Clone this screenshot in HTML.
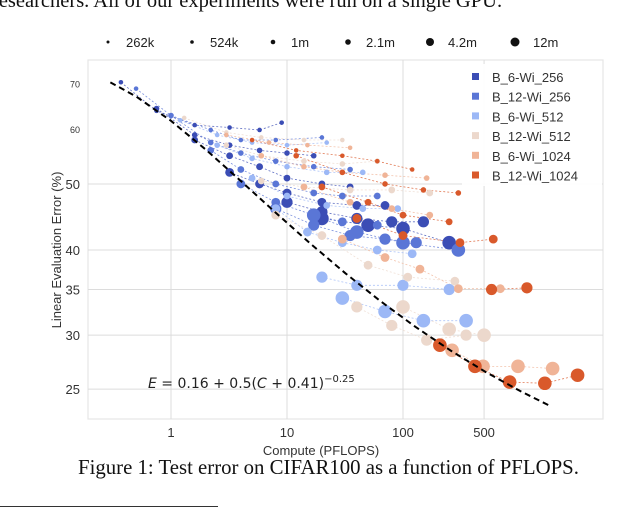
<!DOCTYPE html>
<html><head><meta charset="utf-8"><style>
body{margin:0;background:#fff;width:640px;height:509px;overflow:hidden;position:relative;font-family:"Liberation Sans",sans-serif}
.t{position:absolute;white-space:nowrap}
</style></head><body>
<div class="t" style="left:-8px;top:-10px;font:20.5px 'Liberation Serif',serif;color:#111">researchers. All of our experiments were run on a single GPU.</div>
<svg id="c" width="640" height="509" style="position:absolute;left:0;top:0"></svg>
<div class="t" style="left:78px;top:456px;font:20.8px 'Liberation Serif',serif;color:#111">Figure 1: Test error on CIFAR100 as a function of PFLOPS.</div>
<div style="position:absolute;left:0;top:506px;width:218px;height:1px;background:#333"></div>
<script>
const seriesNames=["B_6-Wi_256","B_12-Wi_256","B_6-Wi_512","B_12-Wi_512","B_6-Wi_1024","B_12-Wi_1024"];
const seriesColors=["#3b4db5","#5a76d6","#9cb8f6","#ecd8cc","#f0b497","#d9592b"];
const sizeLabels=["262k","524k","1m","2.1m","4.2m","12m"];
const xTicks=[1,10,100,500];
const yTicks=[25,30,35,40,50];
const yMinorTicks=[60,70];
// runs: [series, sizeIdx, [[compute PFLOPS, error %], ...]]
const runs=[
[0,0,[[0.37,70.5],[0.75,64],[1.6,61],[3.2,60.5],[5.8,60],[9,61.5]]],
[0,1,[[0.75,64.5],[1.6,59],[3.2,57],[5.8,56],[10,55.5],[17,55]]],
[0,2,[[1.6,58],[3.2,55],[5.8,53],[10,51],[20,50],[35,49.5]]],
[0,3,[[3.2,52],[5.8,50],[10,48.5],[20,47],[40,46.5],[70,46.5]]],
[0,4,[[10,47],[20,45.5],[40,44.5],[80,44],[150,44]]],
[0,5,[[20,44.5],[50,43.5],[100,43],[250,41]]],
[1,0,[[0.5,69],[1,63],[2.2,60],[4,58],[8,58],[20,58.5]]],
[1,1,[[1,63],[2.2,57.5],[4,55.5],[8,54],[17,53],[35,52.5]]],
[1,2,[[2.2,56],[4,52.5],[8,50],[17,48.5],[30,48],[60,48]]],
[1,3,[[4,50],[8,47],[17,45],[30,44],[60,43.5]]],
[1,4,[[8,46],[17,43.5],[35,42],[70,41.5],[130,41]]],
[1,5,[[17,45],[40,42.5],[100,41],[300,40]]],
[2,0,[[1.2,62],[2.5,59],[5,57.5],[10,57],[22,57.5]]],
[2,1,[[2.5,57],[5,54.5],[10,53],[22,52],[45,52]]],
[2,2,[[5,51],[10,48],[22,46.5],[45,46],[90,46]]],
[2,3,[[8,46],[15,42.5],[30,41],[60,40],[120,39.5]]],
[2,4,[[20,36.5],[40,35.5],[100,35.5],[250,35]]],
[2,5,[[30,34],[70,32.5],[150,31.5],[350,31.5]]],
[3,0,[[1.3,62.5],[3,59.5],[6,58.5],[14,58],[30,58]]],
[3,1,[[3,57],[6,55],[14,54],[30,53.5],[60,54]]],
[3,2,[[6,50.5],[14,49.5],[35,49],[80,49],[170,48.5]]],
[3,3,[[8,45],[20,42],[50,38],[110,36.5],[280,36]]],
[3,4,[[40,33],[80,31],[160,29.5],[350,30]]],
[3,5,[[100,33],[250,30.6],[500,30]]],
[4,0,[[3,59],[7,57.5],[15,57],[35,56.5]]],
[4,1,[[6,55],[14,53],[30,52],[70,51.5],[160,51]]],
[4,2,[[14,49.5],[35,47],[80,46],[170,45]]],
[4,3,[[30,41.5],[70,39],[140,37.5],[300,35.1],[690,35.1]]],
[4,5,[[265,28.5],[490,27],[980,27],[1950,26.8]]],
[5,0,[[5,58],[12,56],[30,55],[60,54],[120,52.5]]],
[5,1,[[12,55],[30,52],[70,50],[150,49],[300,48.5]]],
[5,2,[[20,49.5],[50,47],[100,45],[250,44]]],
[5,3,[[40,44.5],[100,42],[310,41],[600,41.5]]],
[5,4,[[580,35],[1170,35.2]]],
[5,5,[[208,29],[417,27],[830,25.6],[1670,25.5],[3200,26.2]]]
];
const sizeR=[2.3,2.8,3.4,4.4,5.6,6.8];
const NS="http://www.w3.org/2000/svg";
const svg=document.getElementById('c');
const X=c=>171+116*Math.log10(c);
const Y=e=>250+296*Math.log(40/e);
function mk(tag,at,parent){const el=document.createElementNS(NS,tag);for(const k in at)el.setAttribute(k,at[k]);(parent||svg).appendChild(el);return el;}
let fr=mk('rect',{x:88,y:60,width:515,height:359,fill:'none',stroke:'#e6e6e6','stroke-width':1.2});


xTicks.forEach(v=>{
 let g=mk('line',{x1:X(v),x2:X(v),y1:60,y2:419,stroke:'#dcdcdc','stroke-width':1});
 
 
 let t=mk('text',{x:X(v),y:437,'text-anchor':'middle','font-size':13,fill:'#333','font-family':'Liberation Sans'});
 t.textContent=v;
 
 
});
yTicks.forEach(v=>{
 let g=mk('line',{x1:88,x2:603,y1:Y(v),y2:Y(v),stroke:'#dcdcdc','stroke-width':1});
 
 
 let t=mk('text',{x:80,y:Y(v)+5,'text-anchor':'end','font-size':13,fill:'#333','font-family':'Liberation Sans'});
 t.textContent=v;
 
 
});
yMinorTicks.forEach(v=>{
 let t=mk('text',{x:80,y:Y(v)+3,'text-anchor':'end','font-size':9,fill:'#333','font-family':'Liberation Sans'});
 t.textContent=v;
 
 
});
let xt=mk('text',{x:321,y:455,'text-anchor':'middle','font-size':13,fill:'#333','font-family':'Liberation Sans'});
xt.textContent='Compute (PFLOPS)';


let yt=mk('text',{x:61,y:250,'text-anchor':'middle','font-size':13,fill:'#333','font-family':'Liberation Sans',transform:'rotate(-90 61 250)'});
yt.textContent='Linear Evaluation Error (%)';


runs.forEach(r=>{
 const pts=r[2].map(p=>X(p[0])+','+Y(p[1])).join(' ');
 let l=mk('polyline',{points:pts,fill:'none',stroke:seriesColors[r[0]],'stroke-width':0.8,'stroke-dasharray':'2,2',opacity:0.8});
 
 
});
runs.forEach(r=>{
 r[2].forEach(p=>{
  let c=mk('circle',{cx:X(p[0]),cy:Y(p[1]),r:sizeR[r[1]],fill:seriesColors[r[0]]});
  
  
 });
});
const fitC=[0.3,0.5,1,2,4,8,16,32,64,128,256,512,1024,1860];
const fp=fitC.map(c=>X(c)+','+Y(100*(0.16+0.5*Math.pow(c+0.41,-0.25)))).join(' ');
let fl=mk('polyline',{points:fp,fill:'none',stroke:'#000','stroke-width':2,'stroke-dasharray':'6,4'});


let ft=mk('text',{x:148,y:388,'font-size':14,fill:'#222','font-family':'DejaVu Sans'});
ft.innerHTML='<tspan font-style="italic">E</tspan> = 0.16 + 0.5(<tspan font-style="italic">C</tspan> + 0.41)<tspan dy="-6" font-size="10">−0.25</tspan>';


const szX=[108,192,273,348,430,515];
const szR=[1.5,1.8,2.3,2.8,4,4.5];
sizeLabels.forEach((s,i)=>{
 let c=mk('circle',{cx:szX[i],cy:42,r:szR[i],fill:'#111'});
 
 
 let t=mk('text',{x:szX[i]+18,y:47,'font-size':13,fill:'#222','font-family':'Liberation Sans'});
 t.textContent=s;
 
 
});
let lb=mk('rect',{x:462,y:64,width:140,height:122,fill:'#fff',opacity:0.9});


seriesNames.forEach((n,i)=>{
 const y=77+19.7*i;
 let s=mk('rect',{x:472,y:y-4,width:7,height:7,fill:seriesColors[i]});
 
 
 let t=mk('text',{x:492,y:y+5,'font-size':13,fill:'#333','font-family':'Liberation Sans'});
 t.textContent=n;
 
 
});
</script>
</body></html>
